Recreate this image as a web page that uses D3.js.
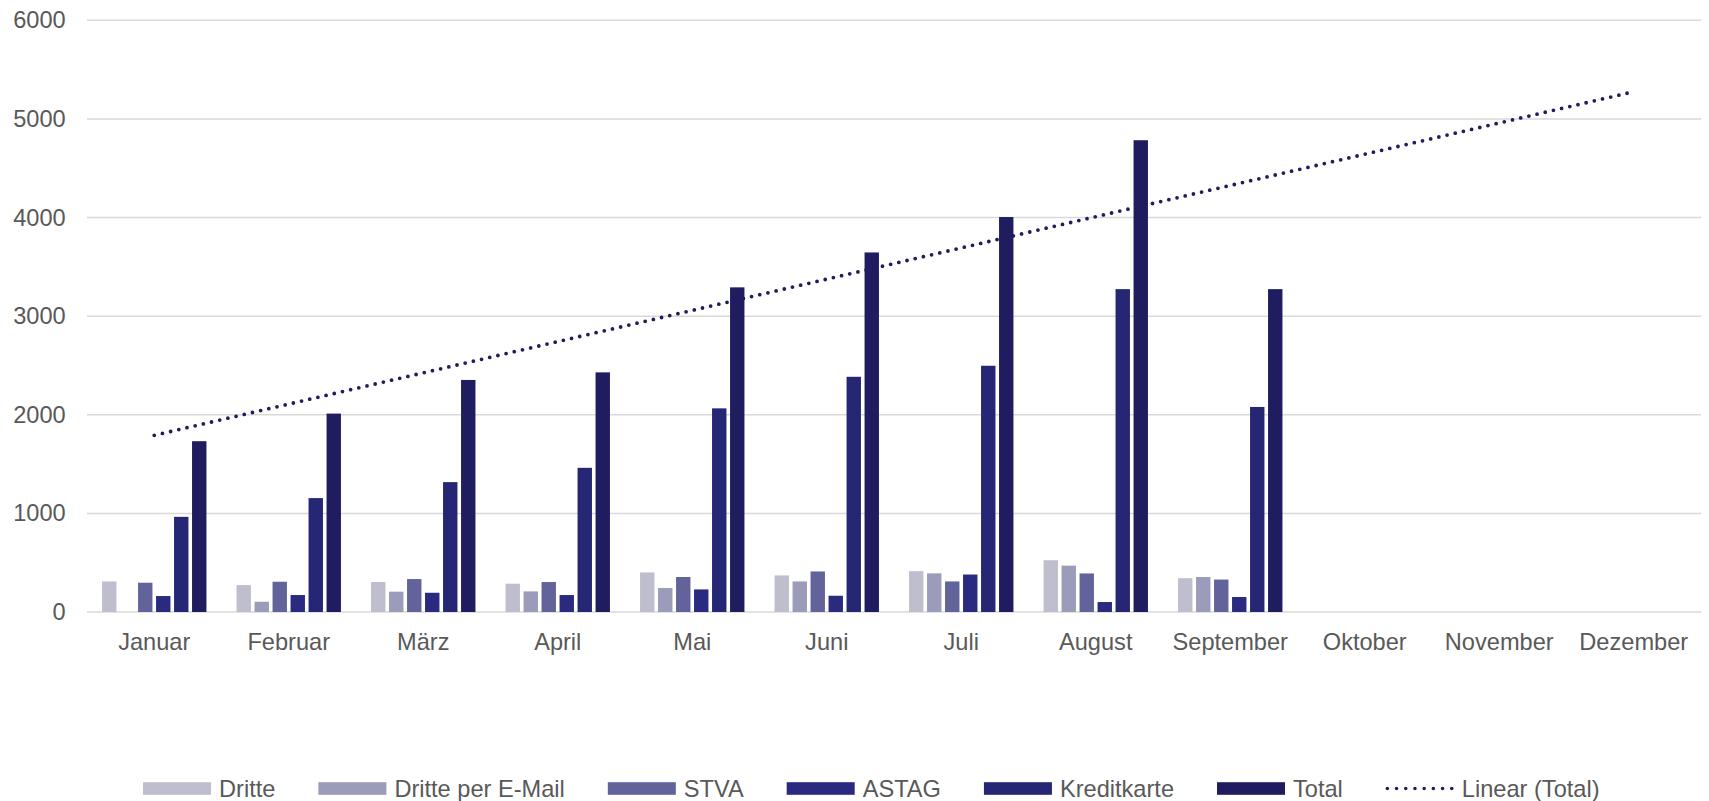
<!DOCTYPE html>
<html><head><meta charset="utf-8">
<script src="https://cdn.jsdelivr.net/npm/d3@7"></script>
<style>
html,body{margin:0;padding:0;background:#fff;}
svg{display:block;font-family:"Liberation Sans",Arial,sans-serif;}
</style></head>
<body>
<svg id="chart" width="1709" height="801"></svg>
<script>
const months = ["Januar","Februar","März","April","Mai","Juni","Juli","August","September","Oktober","November","Dezember"];
const seriesNames = ["Dritte","Dritte per E-Mail","STVA","ASTAG","Kreditkarte","Total"];
const dritte      = [310, 273, 304, 287, 401, 371, 414, 525, 343, null, null, null];
const dritteEmail = [null, 104, 206, 209, 243, 310, 392, 470, 355, null, null, null];
const stva        = [297, 307, 334, 304, 355, 411, 310, 391, 329, null, null, null];
const astag       = [162, 172, 195, 172, 229, 165, 380, 101, 152, null, null, null];
const kreditkarte = [965, 1155, 1317, 1462, 2065, 2385, 2497, 3274, 2079, null, null, null];
const total       = [1732, 2012, 2353, 2430, 3292, 3646, 4005, 4784, 3274, null, null, null];
const yTicks = [0, 1000, 2000, 3000, 4000, 5000, 6000];
const trendLabel = "Linear (Total)";
const colors = ["#bfbecf", "#9b9bba", "#63639b", "#2a2a80", "#252674", "#1f1d60"];
const trendColor = "#1f1d5e";

const seriesValues = [dritte, dritteEmail, stva, astag, kreditkarte, total];

(function () {
const svg = d3.select("#chart");
const pLeft = 87, pRight = 1701, pTop = 20.3, pBottom = 612;
const textColor = "#595959";
const fontSize = 23.6;

const x0 = d3.scaleBand().domain(months).range([pLeft, pRight]).paddingInner(0).paddingOuter(0);
const groupW = 108;
const x1 = d3.scaleBand().domain(seriesNames).range([0, groupW]).padding(0);
const y = d3.scaleLinear().domain([0, 6000]).range([pBottom, pTop]);

// gridlines
svg.append("g").selectAll("line").data(yTicks).join("line")
  .attr("x1", pLeft).attr("x2", pRight)
  .attr("y1", d => y(d)).attr("y2", d => y(d))
  .attr("stroke", "#d9d9d9").attr("stroke-width", 1.5);

// y axis labels
const yAxis = d3.axisLeft(y).tickValues(yTicks).tickSize(0).tickPadding(0).tickFormat(d3.format("d"));
const yg = svg.append("g").attr("transform", `translate(${pLeft - 21.3},0)`).call(yAxis);
yg.select(".domain").remove();
yg.selectAll("text").attr("font-size", fontSize).attr("fill", textColor)
  .attr("font-family", "Liberation Sans, Arial, sans-serif");

// x axis labels
const xAxis = d3.axisBottom(x0).tickSize(0).tickPadding(0);
const xg = svg.append("g").attr("transform", `translate(0,${pBottom})`).call(xAxis);
xg.select(".domain").remove();
xg.selectAll("text").attr("font-size", fontSize).attr("fill", textColor)
  .attr("dy", null).attr("y", 37.5)
  .attr("font-family", "Liberation Sans, Arial, sans-serif");

// bars
const barW = 14.4;
const groups = svg.append("g").selectAll("g").data(months).join("g")
  .attr("transform", d => `translate(${x0(d) + (x0.bandwidth() - groupW) / 2},0)`);
groups.selectAll("rect")
  .data((m, i) => seriesNames.map((s, k) => ({s, k, v: seriesValues[k][i]})).filter(d => d.v != null))
  .join("rect")
  .attr("x", d => x1(d.s) + (x1.bandwidth() - barW) / 2)
  .attr("width", barW)
  .attr("y", d => y(d.v))
  .attr("height", d => y(0) - y(d.v))
  .attr("fill", d => colors[d.k]);

// linear trend of Total (least squares over available months)
const pts = total.map((v, i) => ({x: i + 1, v})).filter(d => d.v != null);
const mx = d3.mean(pts, d => d.x), my = d3.mean(pts, d => d.v);
const slope = d3.sum(pts, d => (d.x - mx) * (d.v - my)) / d3.sum(pts, d => (d.x - mx) ** 2);
const icpt = my - slope * mx;
const trend = months.map((m, i) => ({m, v: icpt + slope * (i + 1)}));
const line = d3.line().x(d => x0(d.m) + x0.bandwidth() / 2).y(d => y(d.v));
svg.append("path").datum([trend[0], trend[trend.length - 1]])
  .attr("d", line).attr("fill", "none")
  .attr("stroke", trendColor).attr("stroke-width", 3.8)
  .attr("stroke-linecap", "round").attr("stroke-dasharray", "0 8.4");

// legend
const legend = svg.append("g");
let lx = 143;
const ly = 788.5;
const items = seriesNames.map((s, k) => ({name: s, type: "bar", color: colors[k]}))
  .concat([{name: trendLabel, type: "line", color: trendColor}]);
items.forEach(it => {
  if (it.type === "bar") {
    legend.append("rect").attr("x", lx).attr("y", ly - 6.3).attr("width", 68).attr("height", 12.6).attr("fill", it.color);
  } else {
    legend.append("line").attr("x1", lx + 1.5).attr("x2", lx + 66).attr("y1", ly).attr("y2", ly)
      .attr("stroke", it.color).attr("stroke-width", 3.6).attr("stroke-linecap", "round").attr("stroke-dasharray", "0 9.2");
  }
  const t = legend.append("text").attr("x", lx + 76).attr("y", ly + 8.3)
    .attr("font-size", fontSize).attr("fill", textColor).text(it.name);
  lx += 76 + t.node().getComputedTextLength() + 43;
});
})();
</script>
</body></html>
